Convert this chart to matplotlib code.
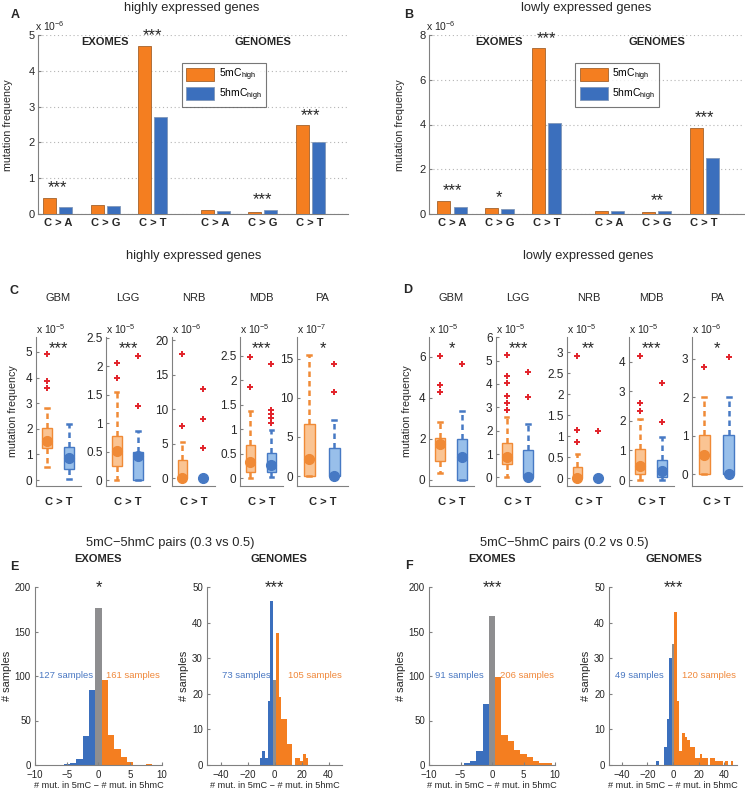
import numpy as np
import matplotlib
matplotlib.use('Agg')
import matplotlib.pyplot as plt
from matplotlib.ticker import FuncFormatter

plt.rcParams['font.family'] = ['Liberation Sans', 'DejaVu Sans']
plt.rcParams['mathtext.fontset'] = 'custom'
plt.rcParams['mathtext.rm'] = 'Liberation Sans'
plt.rcParams['mathtext.it'] = 'Liberation Sans:italic'
plt.rcParams['mathtext.bf'] = 'Liberation Sans:bold'

ORANGE = '#F47E20'
BLUE = '#3B6FBD'
GREY = '#8E8E90'
ORANGE_LIGHT = '#FAC493'
BLUE_LIGHT = '#98BFEA'
ORANGE_EDGE = '#F08A36'
BLUE_EDGE = '#4679C4'
RED = '#E2222A'
AXC = '#808080'
TXT = '#262626'

# ---- panels A / B: mutation frequency (x 1e-6)
mutation_types = ['C > A', 'C > G', 'C > T', 'C > A', 'C > G', 'C > T']
high_5mC = [0.45, 0.25, 4.70, 0.11, 0.05, 2.48]
high_5hmC = [0.20, 0.22, 2.72, 0.09, 0.12, 2.02]
high_signif = ['***', '', '***', '', '***', '***']
low_5mC = [0.58, 0.27, 7.40, 0.12, 0.07, 3.85]
low_5hmC = [0.30, 0.22, 4.08, 0.13, 0.15, 2.50]
low_signif = ['***', '*', '***', '', '**', '***']

# ---- panels C / D: C > T frequency per tumour type
# boxes are (lower whisker, q1, median, q3, upper whisker)
tumours = ['GBM', 'LGG', 'NRB', 'MDB', 'PA']
high_box_5mC = [[0.5, 1.24, 1.53, 2.05, 2.82], [0, 0.25, 0.51, 0.77, 1.55], [0, 0, 0, 2.65, 5.3],
                [0, 0.12, 0.33, 0.68, 1.38], [0, 0, 2.2, 6.7, 15.5]]
high_out_5mC = [[3.6, 3.85, 4.9], [1.8, 2.05], [7.6, 18], [1.85, 2.47], []]
high_box_5hmC = [[0.05, 0.43, 0.87, 1.3, 2.17], [0, 0, 0.42, 0.5, 0.86], [0, 0, 0, 0, 0],
                 [0.03, 0.12, 0.27, 0.52, 0.99], [0, 0, 0, 3.55, 7.2]]
high_out_5hmC = [[], [1.31, 2.17], [4.35, 8.6, 12.9], [1.12, 1.22, 1.3, 1.39, 2.32], [10.7, 14.3]]
high_exp = [-5, -5, -6, -5, -7]
high_box_signif = ['***', '***', '', '***', '*']

low_box_5mC = [[0.33, 0.94, 1.73, 2.02, 2.83], [0, 0.56, 0.88, 1.49, 2.6], [0, 0, 0, 0.28, 0.58],
               [0, 0.19, 0.47, 1.04, 2.07], [0, 0, 0.5, 1.02, 2.02]]
low_out_5mC = [[4.29, 4.6, 6.03], [2.89, 3.18, 3.49, 4.03, 4.35, 5.22], [0.87, 1.15, 2.9],
               [2.34, 2.59, 4.18], [2.78]]
low_box_5hmC = [[0, 0, 1.1, 1.97, 3.36], [0, 0, 0, 1.17, 2.3], [0, 0, 0, 0, 0],
                [0, 0.11, 0.31, 0.68, 1.44], [0, 0, 0, 1.02, 2.02]]
low_out_5hmC = [[5.62], [3.42, 4.53], [1.13], [1.95, 3.27], [3.05]]
low_exp = [-5, -5, -5, -5, -6]
low_box_signif = ['*', '***', '**', '***', '*']

# ---- panels E / F: # mut. in 5mC - # mut. in 5hmC per sample (bin centres, counts)
e_exo_neg_x = [-5, -4, -3, -2, -1]
e_exo_neg_n = [1, 2, 7, 33, 84]
e_exo_zero_n = 176
e_exo_pos_x = [1, 2, 3, 4, 5, 8]
e_exo_pos_n = [96, 34, 18, 9, 3, 1]
e_exo_labels = ['127 samples', '161 samples']

e_gen_neg_x = [-10, -8, -6, -4, -2]
e_gen_neg_n = [2, 4, 2, 18, 46]
e_gen_zero_n = 24
e_gen_pos_x = [2, 4, 6, 8, 10, 12, 14, 16, 18, 20, 22, 24]
e_gen_pos_n = [37, 19, 13, 13, 6, 6, 0, 2, 2, 1, 3, 2]
e_gen_labels = ['73 samples', '105 samples']

f_exo_neg_x = [-4, -3, -2, -1]
f_exo_neg_n = [2, 5, 16, 68]
f_exo_zero_n = 167
f_exo_pos_x = [1, 2, 3, 4, 5, 6, 7, 8, 9]
f_exo_pos_n = [99, 34, 27, 17, 12, 9, 4, 2, 2]
f_exo_labels = ['91 samples', '206 samples']

f_gen_neg_x = [-12, -6, -4, -2]
f_gen_neg_n = [1, 5, 13, 30]
f_gen_zero_n = 34
f_gen_pos_x = [2, 4, 6, 8, 10, 12, 14, 16, 18, 20, 22, 24, 26, 28, 30, 32, 34, 36, 38, 40, 42, 44, 46]
f_gen_pos_n = [43, 18, 4, 9, 8, 7, 5, 5, 2, 2, 3, 2, 2, 0, 2, 2, 1, 1, 1, 0, 1, 0, 1]
f_gen_labels = ['49 samples', '120 samples']

W, H = 745, 790
fig = plt.figure(figsize=(W / 100, H / 100), dpi=100)


def add_ax(l, t, r, b):
    return fig.add_axes([l / W, 1 - b / H, (r - l) / W, (b - t) / H])


def ftext(x, y, s, **kw):
    kw.setdefault('ha', 'center')
    kw.setdefault('va', 'center')
    kw.setdefault('color', TXT)
    fig.text(x / W, 1 - y / H, s, **kw)


fmt = FuncFormatter(lambda v, p: ('%g' % v).replace('-', '\u2212'))


def style(ax, size=8):
    for s in ['top', 'right']:
        ax.spines[s].set_visible(False)
    for s in ['left', 'bottom']:
        ax.spines[s].set_color(AXC)
        ax.spines[s].set_linewidth(0.8)
    ax.tick_params(direction='in', length=2, color=AXC, labelcolor=TXT, labelsize=size, pad=2.5)
    ax.yaxis.set_major_formatter(fmt)


# ---------------- A / B ----------------
xpos = np.array([1, 2, 3, 4.32, 5.32, 6.32])


def bar_panel(left, right, v_mc, v_hmc, signif, ymax, ystep, xlim, exp):
    ax = add_ax(left, 35, right, 214)
    style(ax)
    ax.bar(xpos - 0.17, v_mc, 0.275, color=ORANGE, edgecolor='#a4622c', linewidth=0.6,
           label=r'5mC$_{\mathrm{high}}$', zorder=3)
    ax.bar(xpos + 0.17, v_hmc, 0.275, color=BLUE, edgecolor='#8198b8', linewidth=0.6,
           label=r'5hmC$_{\mathrm{high}}$', zorder=3)
    for x, a, b, s in zip(xpos, v_mc, v_hmc, signif):
        if s:
            ax.annotate(s, (x, max(a, b)), xytext=(0, 4), textcoords='offset points',
                        ha='center', va='baseline', fontsize=12, color=TXT, annotation_clip=False)
    ax.set_xlim(*xlim)
    ax.set_ylim(0, ymax)
    ax.set_yticks(np.arange(0, ymax + 0.01, ystep))
    ax.set_xticks(xpos)
    ax.set_xticklabels(mutation_types, fontweight='bold', fontsize=8)
    ax.tick_params(axis='x', length=0, pad=3)
    ax.yaxis.grid(True, linestyle=(0, (1, 2.5)), color='#b5b5b5', linewidth=0.8)
    ax.set_axisbelow(True)
    ax.text(2, ymax * 0.96, 'EXOMES', ha='center', va='center', fontweight='bold', fontsize=8, color=TXT)
    ax.text(5.32, ymax * 0.96, 'GENOMES', ha='center', va='center', fontweight='bold', fontsize=8, color=TXT)
    ax.text(-0.01, 1.012, 'x 10$^{%d}$' % exp, transform=ax.transAxes, ha='left', va='bottom',
            fontsize=7.5, color=TXT)
    leg = ax.legend(loc='upper left', bbox_to_anchor=(0.465, 0.844), fancybox=False,
                    edgecolor='#555555', fontsize=7.5, handlelength=2.7, handleheight=1.5,
                    borderpad=0.4, labelspacing=0.3, handletextpad=0.4, borderaxespad=0)
    leg.get_frame().set_linewidth(0.8)
    return ax


bar_panel(38, 348, high_5mC, high_5hmC, high_signif, 5, 1, (0.58, 7.12), -6)
bar_panel(429, 744, low_5mC, low_5hmC, low_signif, 8, 2, (0.515, 7.16), -6)
ftext(192, 8, 'highly expressed genes', fontsize=9.3)
ftext(586, 8, 'lowly expressed genes', fontsize=9.3)
ftext(15, 15, 'A', fontsize=9, fontweight='bold')
ftext(409, 15, 'B', fontsize=9, fontweight='bold')
ftext(8, 125, 'mutation frequency', fontsize=7.7, rotation=90)
ftext(400, 125, 'mutation frequency', fontsize=7.7, rotation=90)


# ---------------- C / D ----------------
def one_box(ax, pos, vals, out, face, edge):
    lo, q1, med, q3, hi = vals
    st = dict(whislo=lo, q1=q1, med=med, q3=q3, whishi=hi, fliers=out)
    ax.bxp([st], positions=[pos], widths=0.45, patch_artist=True, capwidths=[0.16],
           boxprops=dict(facecolor=face, edgecolor=edge, linewidth=1.0),
           whiskerprops=dict(color=edge, linewidth=1.8, linestyle=(0, (2.2, 1.6))),
           capprops=dict(color=edge, linewidth=1.8),
           medianprops=dict(linewidth=0),
           flierprops=dict(marker='+', markeredgecolor=RED, markersize=5, markeredgewidth=1.4),
           manage_ticks=False)
    ax.plot(pos, med, 'o', color=edge, ms=7, zorder=5)


def box_row(spans, b_mc, o_mc, b_hmc, o_hmc, exps, signif, ylims, yticks):
    for i, (l, r) in enumerate(spans):
        ax = add_ax(l, 337, r, 486)
        style(ax, 8.5)
        one_box(ax, 1, b_mc[i], o_mc[i], ORANGE_LIGHT, ORANGE_EDGE)
        one_box(ax, 2, b_hmc[i], o_hmc[i], BLUE_LIGHT, BLUE_EDGE)
        ax.set_xlim(0.5, 2.55)
        ax.set_ylim(*ylims[i])
        ax.set_yticks(yticks[i])
        ax.set_xticks([])
        ax.set_xlabel('C > T', fontweight='bold', fontsize=8, labelpad=8, color=TXT)
        ax.text(0.5, 1 + 39 / 149, tumours[i], transform=ax.transAxes, ha='center', va='center',
                fontsize=8, color=TXT)
        ax.text(0, 1.01, 'x 10$^{%d}$' % exps[i], transform=ax.transAxes, ha='left', va='bottom',
                fontsize=7.5, color=TXT)
        if signif[i]:
            ax.text(0.5, 0.89, signif[i], transform=ax.transAxes, ha='center', va='baseline',
                    fontsize=12, color=TXT)


box_row([(36, 81), (106, 150), (172, 215), (240, 283), (297, 348)],
        high_box_5mC, high_out_5mC, high_box_5hmC, high_out_5hmC, high_exp, high_box_signif,
        [(-0.23, 5.58), (-0.1, 2.51), (-1.1, 20.5), (-0.16, 2.88), (-1.28, 17.8)],
        [np.arange(0, 6), np.arange(0, 2.6, 0.5), np.arange(0, 21, 5), np.arange(0, 2.6, 0.5),
         np.arange(0, 16, 5)])
box_row([(429, 474), (496, 540), (567, 610), (629, 674), (692, 742)],
        low_box_5mC, low_out_5mC, low_box_5hmC, low_out_5hmC, low_exp, low_box_signif,
        [(-0.3, 6.95), (-0.37, 6.01), (-0.18, 3.36), (-0.2, 4.83), (-0.3, 3.57)],
        [np.arange(0, 7, 2), np.arange(0, 7), np.arange(0, 3.1, 0.5), np.arange(0, 5),
         np.arange(0, 4)])
ftext(194, 256, 'highly expressed genes', fontsize=9.3)
ftext(588, 256, 'lowly expressed genes', fontsize=9.3)
ftext(14, 291, 'C', fontsize=9, fontweight='bold')
ftext(408, 290, 'D', fontsize=9, fontweight='bold')
ftext(13, 411, 'mutation frequency', fontsize=7.7, rotation=90)
ftext(407, 411, 'mutation frequency', fontsize=7.7, rotation=90)


# ---------------- E / F ----------------
def hist_panel(l, r, neg_x, neg_n, zero_n, pos_x, pos_n, binw, xlim, xticks, ymax, ystep,
               signif, labels, lab_x):
    ax = add_ax(l, 587, r, 765)
    style(ax, 7)
    ax.xaxis.set_major_formatter(fmt)
    ax.tick_params(axis='x', pad=3.5)
    ax.tick_params(axis='y', pad=3)
    ax.bar(0, zero_n, width=binw, color=GREY, linewidth=0)
    ax.bar(neg_x, neg_n, width=binw, color=BLUE, linewidth=0)
    ax.bar(pos_x, pos_n, width=binw, color=ORANGE, linewidth=0)
    ax.set_xlim(*xlim)
    ax.set_xticks(xticks)
    ax.set_ylim(0, ymax)
    ax.set_yticks(np.arange(0, ymax + 1, ystep))
    ax.set_xlabel('# mut. in 5mC \u2212 # mut. in 5hmC', fontsize=6.6, labelpad=0.5, color=TXT)
    ax.set_ylabel('# samples', fontsize=7.9, labelpad=2, color=TXT)
    ax.text(0.5, 0.974, signif, transform=ax.transAxes, ha='center', va='baseline',
            fontsize=12, color=TXT)
    ax.text(lab_x[0], 0.5, labels[0], transform=ax.transAxes, ha='center', va='center',
            fontsize=6.8, color='#4a78c2')
    ax.text(lab_x[1], 0.5, labels[1], transform=ax.transAxes, ha='center', va='center',
            fontsize=6.8, color='#f0883a')
    return ax


hist_panel(35, 162, e_exo_neg_x, e_exo_neg_n, e_exo_zero_n, e_exo_pos_x, e_exo_pos_n, 1,
           (-10, 10), [-10, -5, 0, 5, 10], 200, 50, '*', e_exo_labels, (0.244, 0.77))
hist_panel(207, 342, e_gen_neg_x, e_gen_neg_n, e_gen_zero_n, e_gen_pos_x, e_gen_pos_n, 2,
           (-50, 50), [-40, -20, 0, 20, 40], 50, 10, '***', e_gen_labels, (0.29, 0.8))
hist_panel(429, 555, f_exo_neg_x, f_exo_neg_n, f_exo_zero_n, f_exo_pos_x, f_exo_pos_n, 1,
           (-10, 10), [-10, -5, 0, 5, 10], 200, 50, '***', f_exo_labels, (0.24, 0.78))
hist_panel(609, 737, f_gen_neg_x, f_gen_neg_n, f_gen_zero_n, f_gen_pos_x, f_gen_pos_n, 2,
           (-50, 50), [-40, -20, 0, 20, 40], 50, 10, '***', f_gen_labels, (0.24, 0.78))
ftext(170, 543, '5mC\u22125hmC pairs (0.3 vs 0.5)', fontsize=9.3)
ftext(564, 543, '5mC\u22125hmC pairs (0.2 vs 0.5)', fontsize=9.3)
ftext(98, 559, 'EXOMES', fontsize=8, fontweight='bold')
ftext(279, 559, 'GENOMES', fontsize=8, fontweight='bold')
ftext(492, 559, 'EXOMES', fontsize=8, fontweight='bold')
ftext(674, 559, 'GENOMES', fontsize=8, fontweight='bold')
ftext(14, 567, 'E', fontsize=9, fontweight='bold')
ftext(409, 566, 'F', fontsize=9, fontweight='bold')

fig.savefig('out.png', dpi=100)
